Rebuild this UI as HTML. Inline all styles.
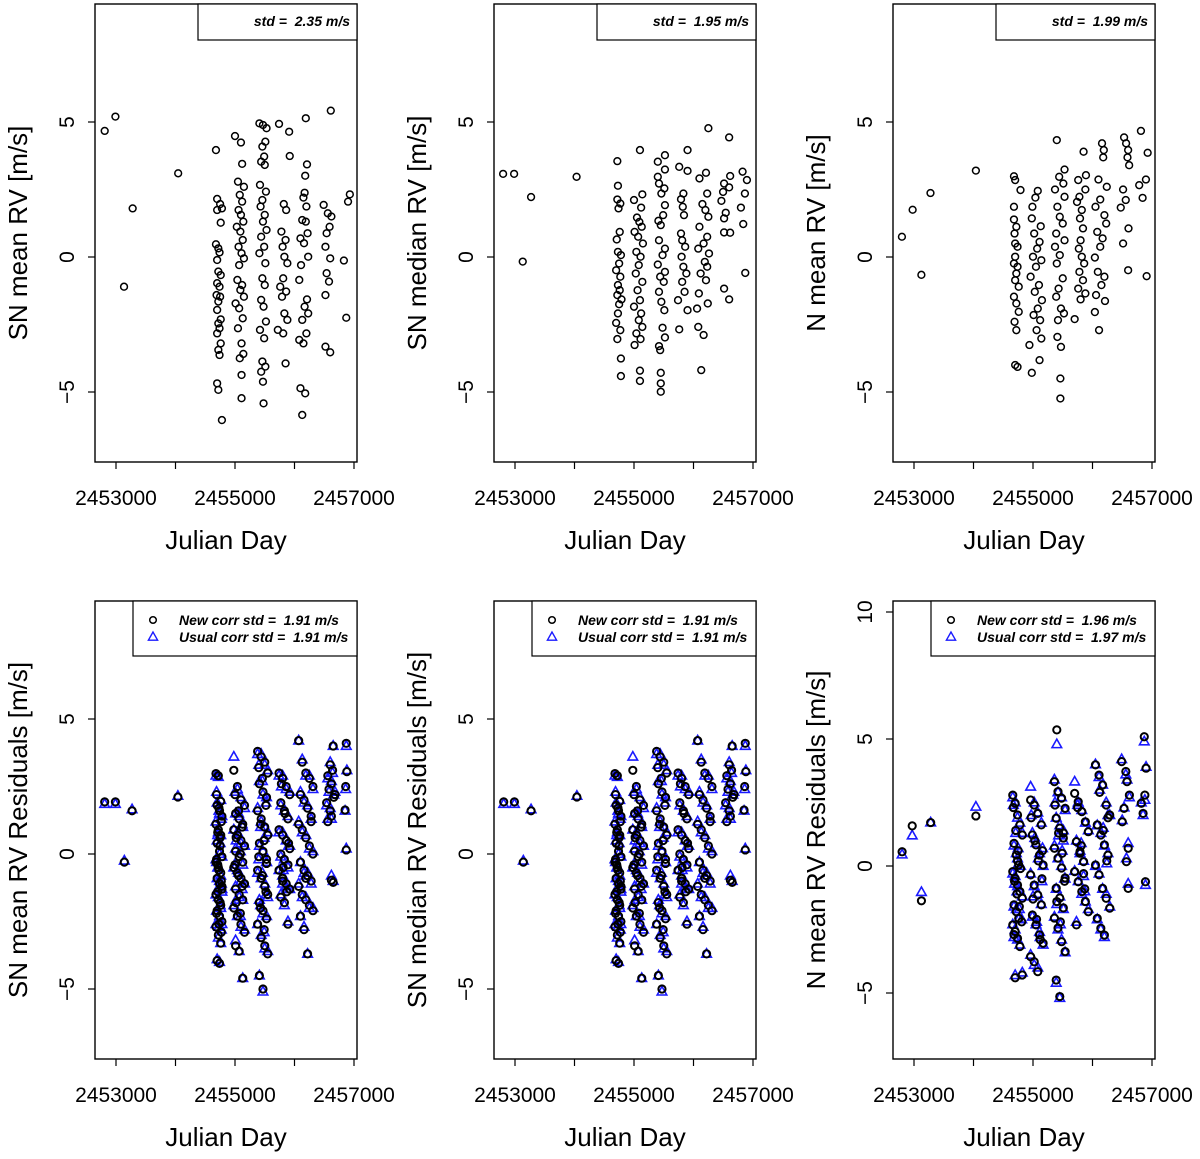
<!DOCTYPE html>
<html><head><meta charset="utf-8"><style>
html,body{margin:0;padding:0;background:#fff}
svg{display:block;font-family:"Liberation Sans",Helvetica,Arial,sans-serif}
text{white-space:pre}
</style></head><body>
<svg id="fig" width="1200" height="1159" viewBox="0 0 1200 1159" xmlns="http://www.w3.org/2000/svg"></svg>
<script>
// ---------- data ----------
const tlX=[2452810,2452990,2453280,2453135,2454045,
2454680,2454700,2454750,2454780,2454700,2454760,2454680,2454720,2454740,2454700,2454720,2454760,2454700,2454740,2454690,2454750,2454720,2454700,2454760,2454720,2454740,2454700,2454760,2454720,2454740,2454700,2454720,2454780,
2455000,2455100,2455120,2455050,2455150,2455080,2455120,2455060,2455100,2455140,2455030,2455090,2455130,2455060,2455110,2455150,2455070,2455040,2455120,2455090,2455150,2455010,2455070,2455130,2455050,2455110,2455140,2455080,2455110,2455110,
2455410,2455470,2455530,2455510,2455460,2455490,2455440,2455500,2455420,2455520,2455460,2455430,2455500,2455470,2455530,2455440,2455490,2455410,2455510,2455460,2455500,2455440,2455480,2455520,2455420,2455490,2455460,2455510,2455440,2455470,2455480,
2455740,2455910,2455920,2455820,2455860,2455780,2455850,2455800,2455830,2455880,2455810,2455760,2455860,2455790,2455830,2455880,2455720,2455810,2455850,
2456190,2456210,2456180,2456170,2456150,2456200,2456130,2456190,2456220,2456100,2456160,2456230,2456110,2456080,2456210,2456170,2456230,2456130,2456200,2456080,2456150,2456100,2456180,2456130,
2456610,2456930,2456900,2456490,2456560,2456620,2456590,2456540,2456520,2456600,2456830,2456540,2456580,2456520,2456870,2456520,2456600];
const tlY=[4.67,5.2,1.8,-1.1,3.1,
3.96,2.15,1.96,1.80,1.74,1.27,0.47,0.32,0.17,-0.11,-0.54,-0.67,-0.97,-1.1,-1.41,-1.47,-1.65,-1.96,-2.31,-2.46,-2.64,-2.83,-3.2,-3.44,-3.63,-4.68,-4.92,-6.04,
4.48,4.24,3.45,2.79,2.6,2.3,2.05,1.74,1.56,1.31,1.12,0.94,0.63,0.38,0.14,-0.05,-0.3,-0.85,-1.04,-1.22,-1.47,-1.72,-1.9,-2.27,-2.64,-3.2,-3.59,-3.75,-4.37,-5.23,
4.95,4.89,4.77,4.27,4.09,3.72,3.53,3.41,2.67,2.42,2.11,1.87,1.56,1.31,1.0,0.75,0.38,0.14,-0.23,-0.79,-1.04,-1.59,-1.84,-2.39,-2.7,-3.01,-3.87,-4.06,-4.25,-4.62,-5.42,
4.93,4.64,3.74,1.96,1.74,0.94,0.63,0.38,0.01,-0.23,-0.79,-1.1,-1.28,-1.47,-2.09,-2.33,-2.7,-2.83,-3.94,
5.14,3.43,3.01,2.38,2.2,1.87,1.37,1.31,0.88,0.69,0.51,0.01,-0.3,-0.85,-1.57,-1.84,-2.09,-2.33,-2.83,-3.07,-3.2,-4.86,-5.05,-5.85,
5.42,2.32,2.05,1.93,1.62,1.5,1.12,0.88,0.38,-0.05,-0.13,-0.6,-0.91,-1.41,-2.25,-3.32,-3.53];

const tmX=[2452800,2452985,2453270,2453130,2454035,
2454720,2454730,2454720,2454770,2454740,2454760,2454710,2454730,2454780,2454750,2454700,2454770,2454730,2454760,2454720,2454790,2454750,2454730,2454700,2454770,2454720,2454780,2454780,
2455100,2455140,2455000,2455120,2455050,2455090,2455130,2455010,2455070,2455150,2455040,2455110,2455080,2455030,2455140,2455060,2455100,2455000,2455120,2455080,2455140,2455040,2455110,2455010,2455100,2455100,
2455520,2455400,2455520,2455400,2455420,2455510,2455460,2455520,2455490,2455410,2455450,2455420,2455520,2455480,2455400,2455520,2455440,2455500,2455420,2455460,2455510,2455480,2455520,2455420,2455440,2455450,2455450,2455450,
2455900,2455760,2455900,2455830,2455790,2455820,2455840,2455790,2455810,2455860,2455800,2455830,2455880,2455810,2455850,2455740,2455900,2455760,
2456250,2456210,2456100,2456230,2456150,2456200,2456250,2456100,2456230,2456170,2456080,2456260,2456190,2456230,2456120,2456210,2456090,2456240,2456060,2456080,2456170,2456130,
2456599,2456825,2456616,2456898,2456514,2456599,2456497,2456864,2456469,2456797,2456542,2456514,2456836,2456514,2456616,2456870,2456514,2456599];
const tmY=[3.08,3.08,2.22,-0.17,2.97,
3.55,2.64,2.13,1.98,1.80,0.93,0.65,0.19,0.07,-0.24,-0.49,-0.73,-1.04,-1.23,-1.41,-1.57,-1.75,-2.09,-2.44,-2.71,-3.04,-3.76,-4.41,
3.96,2.32,2.11,1.83,1.46,1.3,1.12,0.93,0.75,0.5,0.19,0.01,-0.3,-0.61,-0.92,-1.23,-1.6,-1.84,-2.09,-2.34,-2.59,-2.83,-3.04,-3.26,-4.21,-4.59,
3.77,3.53,3.24,2.97,2.72,2.54,2.35,1.92,1.55,1.34,1.18,0.62,0.31,0.07,-0.28,-0.55,-0.73,-0.92,-1.29,-1.66,-1.97,-2.62,-2.98,-3.3,-3.45,-4.29,-4.68,-4.99,
3.96,3.34,3.19,2.35,2.14,1.86,1.55,0.87,0.62,0.38,0.01,-0.36,-0.61,-0.92,-1.29,-1.6,-1.97,-2.68,
4.77,3.12,2.91,2.35,1.96,1.74,1.49,1.12,0.75,0.5,0.31,0.13,-0.18,-0.36,-0.61,-0.86,-1.35,-1.72,-1.91,-2.59,-2.89,-4.19,
4.43,3.16,3.0,2.85,2.72,2.58,2.41,2.35,2.08,1.83,1.64,1.43,1.22,0.91,0.9,-0.59,-1.17,-1.57];

const trX=[2452797,2452977,2453124,2453277,2454040,
2454680,2454700,2454790,2454680,2454680,2454720,2454690,2454700,2454740,2454700,2454680,2454740,2454720,2454700,2454760,2454680,2454720,2454760,2454690,2454720,2454700,2454740,
2455080,2455040,2454990,2454980,2455130,2455020,2455110,2455070,2455000,2455140,2455050,2454960,2455100,2455030,2455150,2455080,2455010,2455120,2455060,2455140,2454940,2455110,2454980,
2455400,2455530,2455440,2455510,2455370,2455530,2455410,2455450,2455500,2455390,2455530,2455370,2455450,2455400,2455500,2455430,2455390,2455470,2455520,2455420,2455410,2455470,2455460,2455460,
2455850,2455890,2455760,2455880,2455780,2455740,2455820,2455790,2455840,2455800,2455770,2455820,2455860,2455780,2455840,2455760,2455880,2455800,2455700,
2456160,2456190,2456180,2456100,2456240,2456130,2456050,2456200,2456230,2456080,2456170,2456130,2456040,2456090,2456200,2456150,2456060,2456210,2456040,2456110,
2456814,2456531,2456565,2456599,2456927,2456588,2456616,2456898,2456785,2456514,2456842,2456559,2456475,2456605,2456514,2456599,2456910];
const trY=[0.75,1.75,-0.66,2.37,3.2,
2.99,2.85,2.48,1.86,1.39,1.12,0.87,0.5,0.38,0.01,-0.24,-0.36,-0.61,-0.86,-1.1,-1.47,-1.72,-2.03,-2.4,-2.71,-4.0,-4.07,
2.45,2.2,1.86,1.43,1.14,0.87,0.56,0.31,0.01,-0.12,-0.36,-0.73,-1.04,-1.29,-1.6,-1.91,-2.15,-2.34,-2.71,-3.02,-3.26,-3.82,-4.29,
4.33,3.24,2.97,2.72,2.5,2.23,1.86,1.49,1.24,0.87,0.62,0.38,0.07,-0.24,-0.79,-1.17,-1.47,-1.91,-2.09,-2.34,-2.96,-3.33,-4.5,-5.24,
3.9,3.03,2.85,2.5,2.23,2.04,1.74,1.43,1.06,0.62,0.31,0.01,-0.24,-0.55,-0.86,-1.17,-1.35,-1.57,-2.3,
4.21,3.96,3.69,2.87,2.6,2.13,1.86,1.55,1.24,0.93,0.69,0.38,-0.02,-0.55,-0.73,-1.04,-1.41,-1.63,-2.04,-2.71,
4.67,4.43,4.21,3.96,3.86,3.69,3.4,2.87,2.66,2.5,2.19,2.11,1.83,1.06,0.5,-0.49,-0.71];

// residuals (SN mean / SN median panels)
const resX=[2452810,2452990,2453270,2453140,2454040,
2454680,2454720,2454760,2454700,2454740,2454780,2454680,2454720,2454760,2454700,2454740,2454780,2454680,2454720,2454760,2454700,2454740,2454780,2454680,2454720,2454760,2454700,2454740,2454780,2454680,2454720,2454760,2454700,2454740,2454780,
2454980,2455040,2455100,2455160,2455010,2455070,2455130,2454980,2455040,2455100,2455160,2455010,2455070,2455130,2454980,2455040,2455100,2455160,2455010,2455070,2455130,2454980,2455040,2455100,2455160,2455010,2455070,2455130,
2455380,2455440,2455500,2455550,2455410,2455470,2455530,2455380,2455440,2455500,2455550,2455410,2455470,2455530,2455380,2455440,2455500,2455550,2455410,2455470,2455530,2455380,2455440,2455500,2455550,2455410,2455470,2455530,
2455740,2455800,2455860,2455920,2455770,2455830,2455890,2455740,2455800,2455860,2455920,2455770,2455830,2455890,2455740,2455800,2455860,2455920,2455770,2455830,2455890,2455800,
2456070,2456130,2456190,2456250,2456310,2456100,2456160,2456220,2456280,2456070,2456130,2456190,2456250,2456310,2456100,2456160,2456220,2456280,2456070,2456130,2456190,2456250,2456310,2456100,2456160,2456220,2456280,2456190,
2456650,2456600,2456640,2456560,2456620,2456580,2456660,2456540,2456600,2456620,2456560,2456620,2456650,2456680,
2456870,2456880,2456860,2456850,2456870,
2454690,2454730,2454770,2454710,2454750,2454690,2454730,2454770,2454710,2454750,2454690,2454730,2454770,2454710,2454750,
2455000,2455060,2455120,2455020,2455090,2455000,2455060,2455120,2455020,2455090,
2455400,2455460,2455520,2455430,2455490,2455400,2455460,2455520,2455430,2455490,
2455780,2455840,2455900,2455810,2455870];
const resNew=[1.93,1.93,1.6,-0.3,2.11,
2.98,2.9,1.95,1.8,1.6,1.4,1.1,0.9,0.7,0.4,0.1,-0.1,-0.3,-0.5,-0.7,-0.9,-1.1,-1.3,-1.5,-1.7,-1.9,-2.1,-2.3,-2.5,-2.7,-3.0,-3.3,-3.95,-4.05,-1.2,
3.1,2.5,2.0,1.8,1.5,1.3,1.1,0.9,0.7,0.5,0.3,0.1,-0.1,-0.3,-0.5,-0.7,-0.9,-1.1,-1.3,-1.5,-1.7,-2.0,-2.3,-2.6,-2.9,-3.4,-3.6,-4.6,
3.8,3.6,3.4,3.0,2.6,2.3,2.1,1.6,1.3,1.0,0.7,0.4,0.1,-0.35,-0.6,-0.9,-1.2,-1.5,-1.8,-2.1,-2.4,-2.6,-3.1,-3.4,-3.7,-4.5,-5.0,-0.2,
3.0,2.8,2.5,2.2,1.9,1.6,1.3,0.9,0.7,0.5,0.2,0.0,-0.2,-0.4,-0.6,-0.9,-1.1,-1.3,-1.6,-1.8,-2.6,-1.0,
4.2,3.4,3.0,2.8,2.5,2.2,2.0,1.7,1.4,1.1,0.9,0.6,0.3,0.0,-0.3,-0.6,-0.8,-1.0,-1.2,-1.5,-1.7,-1.9,-2.1,-2.3,-2.8,-3.7,1.2,-0.9,
4.0,3.3,3.1,2.9,2.6,2.4,2.1,1.9,1.6,1.4,1.2,-0.97,-1.05,2.2,
4.1,3.05,2.5,1.63,0.15,
2.2,1.7,1.2,0.8,0.3,-0.2,-0.6,-1.0,-1.4,-1.8,-2.2,-2.6,-2.9,-0.4,0.6,
2.2,1.6,1.0,0.6,0.0,-0.4,-0.8,-1.2,-1.8,-2.2,
3.2,2.8,1.8,1.1,0.5,-0.1,-0.8,-1.4,-2.0,-2.8,
2.6,1.5,0.4,-0.5,-1.4];
const resUsual=[1.85,1.85,1.65,-0.25,2.15,
2.9,2.85,2.0,1.9,1.5,1.4,1.2,0.8,0.7,0.5,0.0,-0.1,-0.2,-0.5,-0.8,-0.9,-1.0,-1.4,-1.5,-1.6,-2.0,-2.1,-2.3,-2.6,-2.6,-3.1,-3.3,-3.9,-4.0,-1.3,
3.6,2.4,2.1,1.7,1.5,1.4,1.0,0.9,0.8,0.4,0.3,0.2,-0.1,-0.4,-0.5,-0.6,-1.0,-1.1,-1.2,-1.6,-1.7,-1.9,-2.3,-2.7,-2.8,-3.2,-3.6,-4.6,
3.7,3.7,3.3,3.1,2.7,2.2,2.1,1.7,1.2,1.0,0.8,0.3,0.1,-0.3,-0.7,-0.9,-1.1,-1.6,-1.7,-2.2,-2.3,-2.6,-3.0,-3.5,-3.6,-4.5,-5.1,-0.3,
2.9,2.9,2.4,2.3,1.8,1.6,1.4,0.8,0.8,0.5,0.3,-0.1,-0.2,-0.5,-0.6,-0.8,-1.2,-1.3,-1.5,-1.9,-2.5,-1.1,
4.2,3.5,2.9,2.9,2.4,2.3,1.9,1.8,1.3,1.2,0.8,0.7,0.2,0.1,-0.3,-0.7,-0.7,-1.1,-1.1,-1.6,-1.6,-2.0,-2.0,-2.3,-2.7,-3.7,1.3,-0.8,
4.0,3.4,3.0,2.8,2.7,2.3,2.2,1.8,1.7,1.3,1.3,-0.8,-1.0,2.3,
4.0,3.1,2.4,1.6,0.2,
2.3,1.6,1.3,0.7,0.4,-0.3,-0.5,-1.1,-1.3,-1.9,-2.1,-2.7,-2.8,-0.5,0.7,
2.3,1.5,1.1,0.5,0.1,-0.5,-0.7,-1.3,-1.7,-2.3,
3.3,2.7,1.9,1.0,0.6,-0.2,-0.7,-1.5,-1.9,-2.9,
2.5,1.6,0.3,-0.6,-1.3];

// N mean residuals
const nresX=[2452800,2452970,2453125,2453280,2454040,
2454660,2454700,2454740,2454780,2454820,2454680,2454720,2454760,2454660,2454700,2454740,2454780,2454820,2454680,2454720,2454760,2454660,2454700,2454740,2454780,2454820,2454700,
2454960,2455020,2455080,2455140,2454990,2455050,2455110,2455170,2454960,2455020,2455080,2455140,2454990,2455050,2455110,2455170,2454960,2455020,2455080,
2455400,2455360,2455420,2455480,2455540,2455390,2455450,2455510,2455360,2455420,2455480,2455540,2455390,2455450,2455510,2455360,2455420,2455480,2455540,2455390,2455450,2455510,
2455700,2455760,2455820,2455880,2455930,2455730,2455790,2455850,2455700,2455760,2455820,2455880,2455930,2455730,2455790,2455850,
2456050,2456110,2456170,2456230,2456290,2456080,2456140,2456200,2456260,2456050,2456110,2456170,2456230,2456290,2456080,2456140,2456200,2456260,
2456490,2456560,2456580,2456620,2456530,2456500,2456600,2456570,2456600,
2456870,2456900,2456880,2456820,2456850,2456890,
2454670,2454710,2454750,2454790,2454690,2454730,2454770,2454810,2454680,2454740,
2454970,2455030,2455090,2455150,2455000,2455060,2455120,2455160,
2455370,2455430,2455490,2455530,2455400,2455460,
2455750,2455810,2455870,
2456120,2456180,2456240];
const nresNew=[0.56,1.58,-1.37,1.71,1.97,
2.79,2.47,2.01,1.62,1.22,0.89,0.43,0.04,-0.22,-0.49,-0.75,-1.01,-1.27,-1.53,-1.8,-2.06,-2.32,-2.58,-2.85,-3.17,-4.29,-4.4,
2.6,2.4,2.07,1.62,1.22,0.83,0.43,0.04,-0.35,-0.75,-1.14,-1.53,-1.93,-2.32,-2.71,-3.04,-3.57,-3.77,-4.16,
5.36,3.32,2.93,2.67,2.27,1.88,1.49,1.1,0.7,0.31,-0.08,-0.47,-0.87,-1.26,-1.65,-2.05,-2.44,-2.98,-3.37,-4.49,-5.14,1.3,
2.86,2.53,2.14,1.74,1.35,0.96,0.57,0.17,-0.22,-0.62,-1.01,-1.4,-1.8,-2.32,0.5,-0.3,
3.98,3.58,3.19,2.4,2.01,1.62,1.22,0.83,0.43,0.04,-0.35,-0.88,-1.27,-1.66,-2.06,-2.45,-2.72,1.9,
4.11,3.72,3.32,2.79,2.27,1.74,0.7,0.17,-0.88,
5.09,3.85,2.79,2.47,2.07,-0.62,
2.3,1.4,0.6,-0.1,-0.6,-1.1,-1.6,-2.2,-2.7,0.2,
1.9,1.0,0.2,-0.5,-1.3,-2.1,-2.9,0.6,
2.4,1.3,0.5,-0.6,-1.4,-2.2,
2.3,0.8,-0.9,
2.9,1.4,0.2];
const nresUsual=[0.45,1.2,-1.03,1.71,2.33,
2.7,2.5,1.9,1.7,1.3,0.8,0.5,0.1,-0.3,-0.4,-0.8,-1.0,-1.2,-1.6,-1.7,-2.1,-2.3,-2.5,-2.9,-3.1,-4.2,-4.3,
3.12,2.5,2.1,1.7,1.3,0.9,0.5,0.0,-0.3,-0.8,-1.1,-1.5,-2.0,-2.3,-2.6,-3.1,-3.5,-3.9,-4.0,
4.79,3.4,2.9,2.7,2.2,1.9,1.6,1.0,0.8,0.3,0.0,-0.5,-0.9,-1.2,-1.7,-2.0,-2.5,-2.9,-3.4,-4.6,-5.2,1.4,
3.32,2.5,2.2,1.7,1.4,1.0,0.5,0.2,-0.2,-0.6,-1.1,-1.4,-1.7,-2.2,0.6,-0.4,
4.0,3.5,3.2,2.5,2.0,1.6,1.3,0.8,0.5,0.0,-0.3,-0.9,-1.1,-1.6,-2.1,-2.5,-2.8,2.0,
4.2,3.6,3.4,2.7,2.3,1.8,0.9,0.3,-0.7,
4.9,3.9,2.6,2.5,2.0,-0.75,
2.4,1.3,0.7,0.0,-0.7,-1.0,-1.7,-2.1,-2.8,0.3,
2.0,1.1,0.3,-0.6,-1.2,-2.2,-2.8,0.7,
2.5,1.2,0.6,-0.5,-1.5,-2.3,
2.4,0.9,-1.0,
3.0,1.5,0.1];

const xTicks=[2453000,2454000,2455000,2456000,2457000];
const xTickLabels=["2453000","","2455000","","2457000"];
const yTicksStd=[-5,0,5];
const yTicksN=[-5,0,5,10];

// ---------- drawing ----------
const NS="http://www.w3.org/2000/svg";
const svg=document.getElementById('fig');
function mk(tag,attrs,parent){const e=document.createElementNS(NS,tag);for(const k in attrs)e.setAttribute(k,attrs[k]);(parent||svg).appendChild(e);return e;}

function panel(o){
  const g=mk('g',{});
  
  
  const L=o.L,T=o.T,R=L+262,B=T+458;
  const sx=d=>L+21+(d-2453000)*0.0595;
  const sy=v=>o.y0-v*o.ppu;
  const box=mk('rect',{x:L,y:T,width:262,height:B-T,fill:'none',stroke:'#000','stroke-width':1.4},g);
  
  
  xTicks.forEach((t,i)=>{
    const x=sx(t);
    mk('line',{x1:x,y1:B,x2:x,y2:B+7,stroke:'#000','stroke-width':1.2},g);
    if(xTickLabels[i]){
      const tx=mk('text',{x:x,y:B+43,'font-size':21,'text-anchor':'middle'},g);
      tx.textContent=xTickLabels[i];
      
      
    }
  });
  const xt=mk('text',{x:L+131,y:B+87,'font-size':26,'text-anchor':'middle'},g);
  xt.textContent='Julian Day';
  
  
  o.yt.forEach(v=>{
    const y=sy(v);
    mk('line',{x1:L-7,y1:y,x2:L,y2:y,stroke:'#000','stroke-width':1.2},g);
    const ty=mk('text',{x:0,y:0,'font-size':21,'text-anchor':'middle',transform:`translate(${L-21},${y}) rotate(-90)`},g);
    ty.textContent=v<0?'\u2212'+(-v):String(v);
    
    
  });
  const yt=mk('text',{x:0,y:0,'font-size':26,'text-anchor':'middle',transform:`translate(${L-68},${(T+B)/2}) rotate(-90)`},g);
  yt.textContent=o.ytitle;
  
  
  if(o.ty){
    o.xs.forEach((d,i)=>{
      const x=sx(d),y=sy(o.ty[i]);
      const p=mk('polygon',{points:`${x},${y-5.2} ${x-4.8},${y+3.3} ${x+4.8},${y+3.3}`,fill:'none',stroke:'#1a1aff','stroke-width':1.6},g);
      
      
    });
  }
  o.xs.forEach((d,i)=>{
    const c=mk('circle',{cx:sx(d),cy:sy(o.ys[i]),r:o.ty?3.6:3.4,fill:'none',stroke:'#000','stroke-width':o.ty?2.0:1.5},g);
    
    
  });
  if(!o.ty){
    const lg=mk('g',{},g);
    
    
    mk('rect',{x:L+103,y:T,width:159,height:36,fill:'#fff',stroke:'#000','stroke-width':1.2},lg);
    const t=mk('text',{x:R-7,y:T+22,'font-size':14,'font-style':'italic','font-weight':'bold','text-anchor':'end'},lg);
    t.textContent=o.leg;
  } else {
    const lg=mk('g',{},g);
    
    
    mk('rect',{x:L+38,y:T,width:224,height:55,fill:'#fff',stroke:'#000','stroke-width':1.2},lg);
    mk('circle',{cx:L+58,cy:T+19,r:3.3,fill:'none',stroke:'#000','stroke-width':1.5},lg);
    const x=L+58,y=T+36;
    mk('polygon',{points:`${x},${y-5} ${x-4.6},${y+3.2} ${x+4.6},${y+3.2}`,fill:'none',stroke:'#1a1aff','stroke-width':1.4},lg);
    const t1=mk('text',{x:L+84,y:T+24,'font-size':14,'font-style':'italic','font-weight':'bold'},lg);
    t1.textContent=o.leg[0];
    
    
    const t2=mk('text',{x:L+84,y:T+41,'font-size':14,'font-style':'italic','font-weight':'bold'},lg);
    t2.textContent=o.leg[1];
    
    
  }
}

panel({name:'panel-sn-mean',L:95,T:4,y0:257,ppu:27,yt:yTicksStd,xs:tlX,ys:tlY,ytitle:'SN mean RV [m/s]',leg:'std =  2.35 m/s'});
panel({name:'panel-sn-median',L:494,T:4,y0:257,ppu:27,yt:yTicksStd,xs:tmX,ys:tmY,ytitle:'SN median RV [m/s]',leg:'std =  1.95 m/s'});
panel({name:'panel-n-mean',L:893,T:4,y0:257,ppu:27,yt:yTicksStd,xs:trX,ys:trY,ytitle:'N mean RV [m/s]',leg:'std =  1.99 m/s'});
panel({name:'panel-sn-mean-residuals',L:95,T:601,y0:854,ppu:27,yt:yTicksStd,xs:resX,ys:resNew,ty:resUsual,ytitle:'SN mean RV Residuals [m/s]',leg:['New corr std =  1.91 m/s','Usual corr std =  1.91 m/s']});
panel({name:'panel-sn-median-residuals',L:494,T:601,y0:854,ppu:27,yt:yTicksStd,xs:resX,ys:resNew,ty:resUsual,ytitle:'SN median RV Residuals [m/s]',leg:['New corr std =  1.91 m/s','Usual corr std =  1.91 m/s']});
panel({name:'panel-n-mean-residuals',L:893,T:601,y0:866,ppu:25.4,yt:yTicksN,xs:nresX,ys:nresNew,ty:nresUsual,ytitle:'N mean RV Residuals [m/s]',leg:['New corr std =  1.96 m/s','Usual corr std =  1.97 m/s']});
</script>
</body></html>
